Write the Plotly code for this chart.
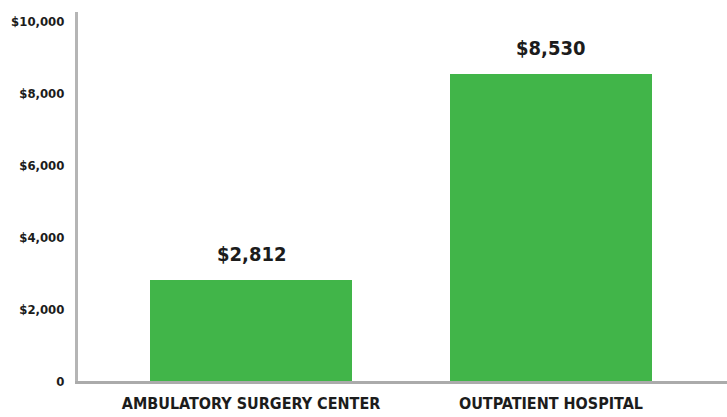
import plotly.graph_objects as go

categories = ["AMBULATORY SURGERY CENTER", "OUTPATIENT HOSPITAL"]
values = [2812, 8530]
value_labels = ["$2,812", "$8,530"]
y_tickvals = [0, 2000, 4000, 6000, 8000, 10000]
y_ticktext = ["0", "$2,000", "$4,000", "$6,000", "$8,000", "$10,000"]

FONT = "DejaVu Sans Condensed, sans-serif"
TXT = "#1c1c1c"

fig = go.Figure()
fig.add_trace(go.Bar(
    x=[0, 1], y=values, width=0.675,
    marker=dict(color="#41b549", line=dict(width=0)),
    hoverinfo="skip",
))
for i, (v, lab) in enumerate(zip(values, value_labels)):
    fig.add_annotation(x=i, y=v, text="<b>" + lab + "</b>", showarrow=False, yanchor="bottom",
                       yshift=12, font=dict(family=FONT, size=20, color=TXT))

fig.update_layout(
    width=727, height=417,
    margin=dict(l=78, r=0, t=12, b=36),
    paper_bgcolor="white", plot_bgcolor="white",
    showlegend=False,
    xaxis=dict(
        range=[-0.577, 1.587],
        tickvals=[0, 1], ticktext=["<b>" + c + "</b>" for c in categories],
        tickfont=dict(family=FONT, size=16, color=TXT),
        showline=True, linecolor="#ababab", linewidth=3,
        showgrid=False, zeroline=False, ticks="", automargin=False,
        ticklabelstandoff=6, fixedrange=True,
    ),
    yaxis=dict(
        range=[0, 10250],
        tickvals=y_tickvals, ticktext=["<b>" + t + "</b>" for t in y_ticktext],
        tickfont=dict(family=FONT, size=13, color=TXT),
        showline=True, linecolor="#b5b5b5", linewidth=3,
        showgrid=False, zeroline=False, ticks="", ticklabelstandoff=8,
        automargin=False, fixedrange=True,
    ),
    bargap=0,
)

fig.write_html("out.html", config={"displayModeBar": False},
               post_script="document.body.style.margin='0';")
